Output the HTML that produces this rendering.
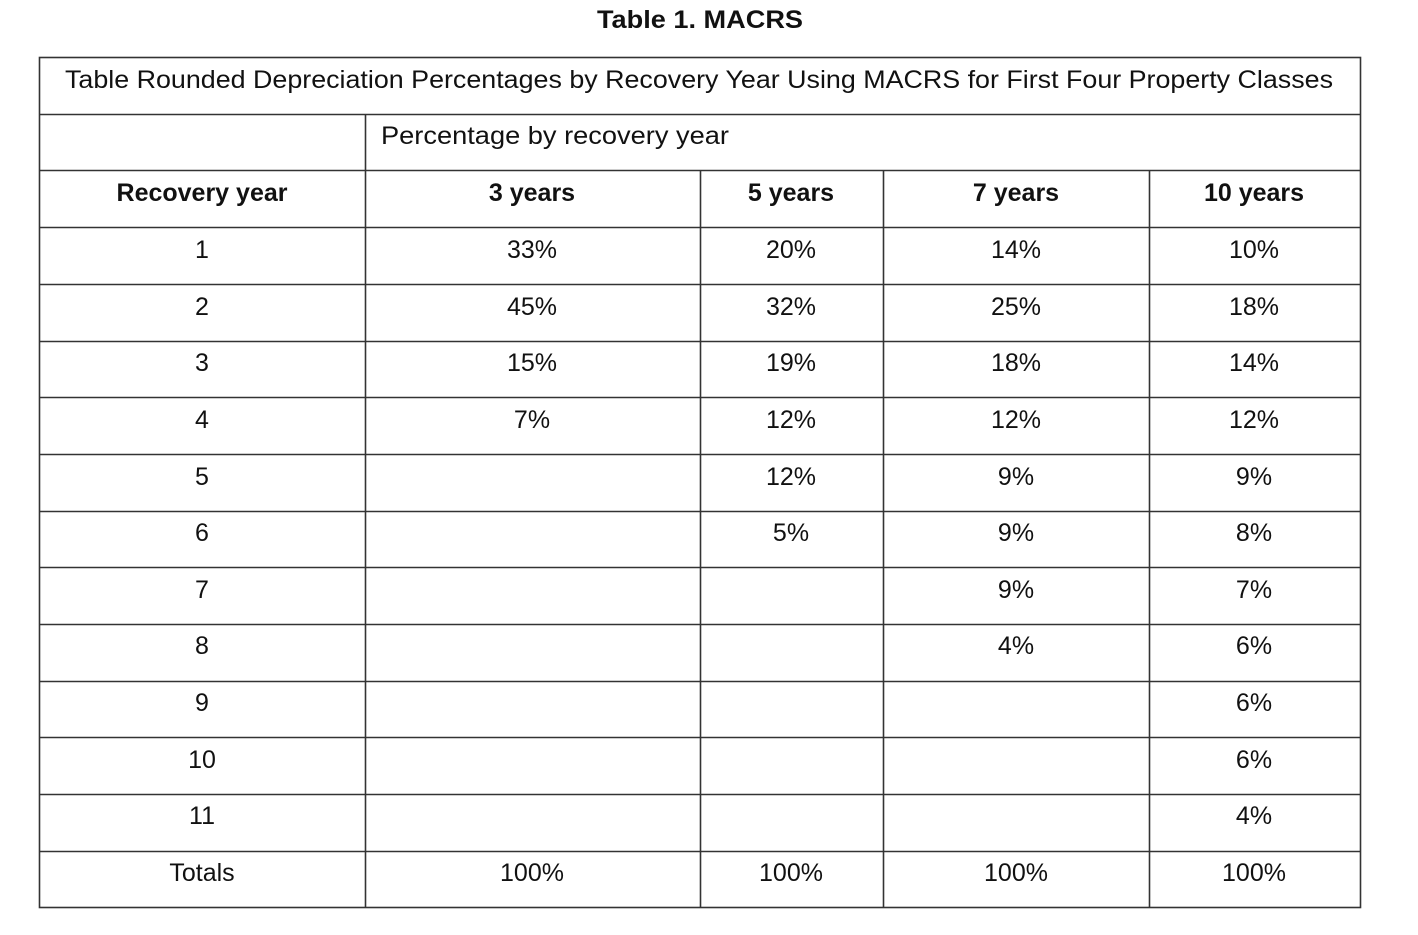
<!DOCTYPE html>
<html><head><meta charset="utf-8"><style>
html,body{margin:0;padding:0;background:#fff;}
svg{display:block;}
text{font-family:"Liberation Sans",sans-serif;font-size:25px;fill:#111;}
.b{font-weight:bold;}
</style></head><body>
<svg width="1418" height="935" viewBox="0 0 1418 935" xmlns="http://www.w3.org/2000/svg">
<text x="700" y="28" text-anchor="middle" class="b" textLength="206" lengthAdjust="spacingAndGlyphs">Table 1. MACRS</text>
<g stroke="#333" stroke-width="1.6" fill="none">
<rect x="39.5" y="57.5" width="1321" height="850"/>
<line x1="39" y1="114.5" x2="1360" y2="114.5"/>
<line x1="39" y1="170.5" x2="1360" y2="170.5"/>
<line x1="39" y1="227.5" x2="1360" y2="227.5"/>
<line x1="39" y1="284.5" x2="1360" y2="284.5"/>
<line x1="39" y1="341.5" x2="1360" y2="341.5"/>
<line x1="39" y1="397.5" x2="1360" y2="397.5"/>
<line x1="39" y1="454.5" x2="1360" y2="454.5"/>
<line x1="39" y1="511.5" x2="1360" y2="511.5"/>
<line x1="39" y1="567.5" x2="1360" y2="567.5"/>
<line x1="39" y1="624.5" x2="1360" y2="624.5"/>
<line x1="39" y1="681.5" x2="1360" y2="681.5"/>
<line x1="39" y1="737.5" x2="1360" y2="737.5"/>
<line x1="39" y1="794.5" x2="1360" y2="794.5"/>
<line x1="39" y1="851.5" x2="1360" y2="851.5"/>
<line x1="365.5" y1="114" x2="365.5" y2="907"/>
<line x1="700.5" y1="170" x2="700.5" y2="907"/>
<line x1="883.5" y1="170" x2="883.5" y2="907"/>
<line x1="1149.5" y1="170" x2="1149.5" y2="907"/>
</g>
<text x="699" y="88" text-anchor="middle" textLength="1268" lengthAdjust="spacingAndGlyphs">Table Rounded Depreciation Percentages by Recovery Year Using MACRS for First Four Property Classes</text>
<text x="381" y="144" textLength="348" lengthAdjust="spacingAndGlyphs">Percentage by recovery year</text>
<g class="b" text-anchor="middle">
<text x="202" y="201" class="b">Recovery year</text>
<text x="532" y="201" class="b">3 years</text>
<text x="791" y="201" class="b">5 years</text>
<text x="1016" y="201" class="b">7 years</text>
<text x="1254" y="201" class="b">10 years</text>
</g>
<g text-anchor="middle">
<text x="202" y="258">1</text><text x="532" y="258">33%</text><text x="791" y="258">20%</text><text x="1016" y="258">14%</text><text x="1254" y="258">10%</text>
<text x="202" y="315">2</text><text x="532" y="315">45%</text><text x="791" y="315">32%</text><text x="1016" y="315">25%</text><text x="1254" y="315">18%</text>
<text x="202" y="371">3</text><text x="532" y="371">15%</text><text x="791" y="371">19%</text><text x="1016" y="371">18%</text><text x="1254" y="371">14%</text>
<text x="202" y="428">4</text><text x="532" y="428">7%</text><text x="791" y="428">12%</text><text x="1016" y="428">12%</text><text x="1254" y="428">12%</text>
<text x="202" y="485">5</text><text x="791" y="485">12%</text><text x="1016" y="485">9%</text><text x="1254" y="485">9%</text>
<text x="202" y="541">6</text><text x="791" y="541">5%</text><text x="1016" y="541">9%</text><text x="1254" y="541">8%</text>
<text x="202" y="598">7</text><text x="1016" y="598">9%</text><text x="1254" y="598">7%</text>
<text x="202" y="654">8</text><text x="1016" y="654">4%</text><text x="1254" y="654">6%</text>
<text x="202" y="711">9</text><text x="1254" y="711">6%</text>
<text x="202" y="768">10</text><text x="1254" y="768">6%</text>
<text x="202" y="824">11</text><text x="1254" y="824">4%</text>
<text x="202" y="881">Totals</text><text x="532" y="881">100%</text><text x="791" y="881">100%</text><text x="1016" y="881">100%</text><text x="1254" y="881">100%</text>
</g>
</svg>
</body></html>
